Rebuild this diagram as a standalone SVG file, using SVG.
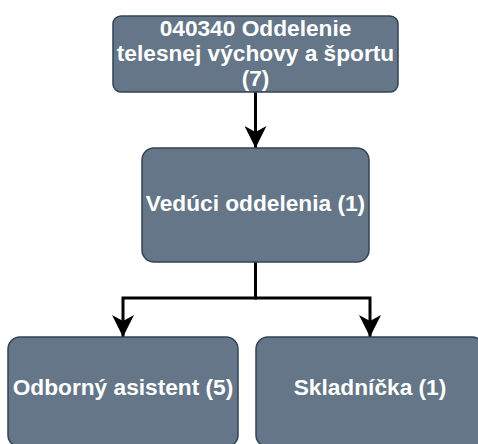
<svg xmlns="http://www.w3.org/2000/svg" width="478" height="444" viewBox="0 0 478 444">
<style>
.box{fill:#647687;stroke:#314354;stroke-width:1.5}
.lbl{font-family:"Liberation Sans",Arial,Helvetica,sans-serif;font-weight:bold;font-size:22.7px;fill:#ffffff;text-anchor:middle}
.edge{fill:none;stroke:#000000;stroke-width:3}
</style>
<defs>
<marker id="arr" markerUnits="userSpaceOnUse" markerWidth="22" markerHeight="22" viewBox="0 0 22 22" refX="22" refY="11" orient="auto">
<path d="M0,0 L22,11 L0,22 L6,11 Z" fill="#000000"/>
</marker>
</defs>
<g id="connectors">
<path class="edge" d="M255.5,92 L255.5,148" marker-end="url(#arr)"/>
<path class="edge" d="M255.5,262 L255.5,298 L123,298 L123,337" marker-end="url(#arr)"/>
<path class="edge" d="M255.5,262 L255.5,298 L370,298 L370,337" marker-end="url(#arr)"/>
</g>
<g id="node-top">
<rect class="box" x="113" y="16" width="285" height="76" rx="8"/>
<text class="lbl" x="255.5" y="36">040340 Oddelenie</text>
<text class="lbl" x="255.5" y="61">telesnej výchovy a športu</text>
<text class="lbl" x="255.5" y="86">(7)</text>
</g>
<g id="node-veduci">
<rect class="box" x="142" y="148" width="227" height="114" rx="12"/>
<text class="lbl" x="255.5" y="211">Vedúci oddelenia (1)</text>
</g>
<g id="node-asistent">
<rect class="box" x="8" y="337" width="230" height="110" rx="12"/>
<text class="lbl" x="123" y="395">Odborný asistent (5)</text>
</g>
<g id="node-skladnicka">
<rect class="box" x="256" y="337" width="228" height="110" rx="12"/>
<text class="lbl" x="370" y="395">Skladníčka (1)</text>
</g>
</svg>
